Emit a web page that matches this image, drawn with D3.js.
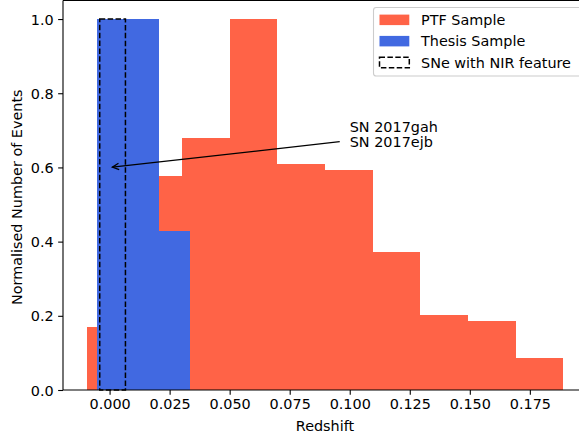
<!DOCTYPE html>
<html>
<head>
<meta charset="utf-8">
<script src="https://cdn.jsdelivr.net/npm/d3@7"></script>
<style>
  html, body { margin: 0; padding: 0; background: #fff; }
  svg { display: block; font-family: "DejaVu Sans", sans-serif; }
</style>
</head>
<body>
<svg id="chart" width="579" height="439"></svg>
<script>
// ---- data ----
const ptfEdges = [-0.0095, 0.0103, 0.0302, 0.0500, 0.0698, 0.0897, 0.1095, 0.1294, 0.1492, 0.1691, 0.1889];
const ptfValues = [0.169, 0.576, 0.678, 1.0, 0.610, 0.593, 0.373, 0.203, 0.186, 0.085];
const thesisEdges = [-0.0052, 0.0077, 0.0205, 0.0334];
const thesisValues = [1.0, 1.0, 0.429];
const nirEdges = [-0.0041, 0.0066];
const nirValues = [1.0];
const xTicks = [0.000, 0.025, 0.050, 0.075, 0.100, 0.125, 0.150, 0.175];
const yTicks = [0.0, 0.2, 0.4, 0.6, 0.8, 1.0];
const legendLabels = ["PTF Sample", "Thesis Sample", "SNe with NIR feature"];
const annotationLines = ["SN 2017gah", "SN 2017ejb"];
const annotationPoint = [0.0, 0.6];
const annotationText = [0.1, 0.7];

const colors = { ptf: "#ff6347", thesis: "#4169e1" };
const FS = 14.4;

(function () {
const svg = d3.select("#chart");
const pL = 63, pR = 587, pT = 0.5, pB = 390;
const x = d3.scaleLinear().domain([-0.0194, 0.1988]).range([pL, pR]);
const y = d3.scaleLinear().domain([0, 1.05]).range([pB, pT]);

function bins(edges, values) {
  return values.map((v, i) => ({ x0: edges[i], x1: edges[i + 1], v }));
}

// PTF bars
svg.append("g").selectAll("rect").data(bins(ptfEdges, ptfValues)).join("rect")
  .attr("x", d => x(d.x0)).attr("width", d => x(d.x1) - x(d.x0))
  .attr("y", d => y(d.v)).attr("height", d => y(0) - y(d.v))
  .attr("fill", colors.ptf).attr("shape-rendering", "crispEdges");

// Thesis bars
svg.append("g").selectAll("rect").data(bins(thesisEdges, thesisValues)).join("rect")
  .attr("x", d => x(d.x0)).attr("width", d => x(d.x1) - x(d.x0))
  .attr("y", d => y(d.v)).attr("height", d => y(0) - y(d.v))
  .attr("fill", colors.thesis).attr("shape-rendering", "crispEdges");

// NIR dashed
svg.append("g").selectAll("rect").data(bins(nirEdges, nirValues)).join("rect")
  .attr("x", d => x(d.x0)).attr("width", d => x(d.x1) - x(d.x0))
  .attr("y", d => y(d.v)).attr("height", d => y(0) - y(d.v))
  .attr("fill", "none").attr("stroke", "#000").attr("stroke-width", 1.5)
  .attr("stroke-dasharray", "5.5,2.4");

// Axes
const xAxis = d3.axisBottom(x).tickValues(xTicks).tickFormat(d3.format(".3f")).tickSize(4.86).tickPadding(4.3);
const yAxis = d3.axisLeft(y).tickValues(yTicks).tickFormat(d3.format(".1f")).tickSize(4.86).tickPadding(4.5);

const gx = svg.append("g").attr("transform", `translate(0,${pB})`).call(xAxis);
const gy = svg.append("g").attr("transform", `translate(${pL},0)`).call(yAxis);
[gx, gy].forEach(g => {
  g.select(".domain").remove();
  g.selectAll(".tick line").attr("stroke", "#000").attr("stroke-width", 1.1);
  g.selectAll(".tick text").attr("fill", "#000").style("font-size", FS + "px").style("font-family", "DejaVu Sans");
});
gy.selectAll(".tick text").attr("dy", "0.36em");

// spines
const spines = svg.append("g").attr("stroke", "#000").attr("stroke-width", 1.1).attr("fill", "none");
spines.append("line").attr("x1", pL).attr("x2", pR).attr("y1", pB).attr("y2", pB);
spines.append("line").attr("x1", pL).attr("x2", pR).attr("y1", pT).attr("y2", pT);
spines.append("line").attr("x1", pL).attr("x2", pL).attr("y1", pT).attr("y2", pB);
spines.append("line").attr("x1", pR).attr("x2", pR).attr("y1", pT).attr("y2", pB);

// axis labels
svg.append("text").attr("x", (pL + pR) / 2).attr("y", 431)
  .attr("text-anchor", "middle").style("font-size", FS + "px").text("Redshift");
svg.append("text").attr("transform", `translate(21.5,${(pT + pB) / 2 + 2}) rotate(-90)`)
  .attr("text-anchor", "middle").style("font-size", FS + "px").text("Normalised Number of Events");

// annotation
const tx = x(annotationText[0]);
const ty = y(annotationText[1]) + 1.5;
const ann = svg.append("g");
annotationLines.forEach((t, i) => {
  ann.append("text").attr("x", tx).attr("y", ty + i * 15.5).style("font-size", FS + "px").text(t);
});
const cx = tx + 47, cy = ty + 3.5;
const px = x(annotationPoint[0]), py = y(annotationPoint[1]);
const sx = tx - 10;
const sy = cy + (py - cy) * (sx - cx) / (px - cx);
const ang = Math.atan2(py - sy, px - sx);
const ex = px - 2.8 * Math.cos(ang), ey = py - 2.8 * Math.sin(ang);
ann.append("line").attr("x1", sx).attr("y1", sy).attr("x2", ex).attr("y2", ey)
  .attr("stroke", "#000").attr("stroke-width", 1.3);
const hl = 6.5, hw = 3.2;
const bx = ex - hl * Math.cos(ang), by = ey - hl * Math.sin(ang);
const nx = -Math.sin(ang), ny = Math.cos(ang);
ann.append("path")
  .attr("d", `M${bx + hw * nx},${by + hw * ny}L${ex},${ey}L${bx - hw * nx},${by - hw * ny}`)
  .attr("fill", "none").attr("stroke", "#000").attr("stroke-width", 1.3);

// legend
const lg = svg.append("g");
lg.append("rect").attr("x", 373.5).attr("y", 7.5).attr("width", 209).attr("height", 68.5)
  .attr("rx", 2.8).attr("fill", "#fff").attr("fill-opacity", 0.8)
  .attr("stroke", "#cccccc").attr("stroke-width", 1.1);
const legendStyles = [
  { fill: colors.ptf, stroke: "none", dash: null },
  { fill: colors.thesis, stroke: "none", dash: null },
  { fill: "none", stroke: "#000", dash: "5.5,2.4" }
];
legendLabels.forEach((lab, i) => {
  const rowY = 19.6 + i * 21.3;
  const st = legendStyles[i];
  const r = lg.append("rect").attr("x", 379.5).attr("y", rowY - 5).attr("width", 29.8).attr("height", 10.5)
    .attr("fill", st.fill);
  if (st.stroke !== "none") r.attr("stroke", st.stroke).attr("stroke-width", 1.5).attr("stroke-dasharray", st.dash);
  lg.append("text").attr("x", 421).attr("y", rowY + 5.3).style("font-size", FS + "px").text(lab);
});
})();
</script>
</body>
</html>
